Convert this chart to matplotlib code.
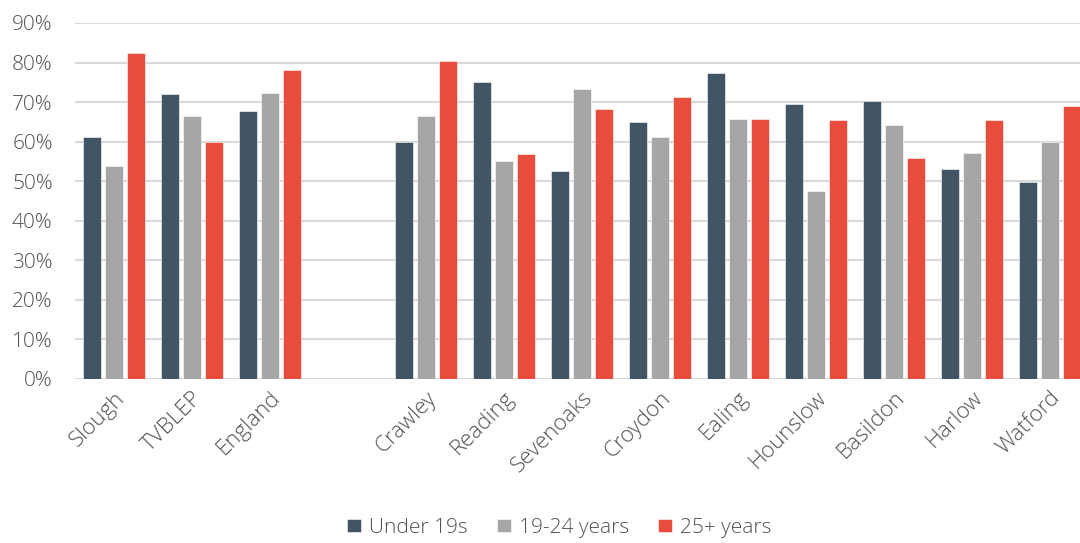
import matplotlib.pyplot as plt
import numpy as np

# Data (blank label = spacer between groups)
categories = ["Slough", "TVBLEP", "England", "", "Crawley", "Reading", "Sevenoaks",
              "Croydon", "Ealing", "Hounslow", "Basildon", "Harlow", "Watford"]
under_19 = [61.1, 72.0, 67.8, None, 59.9, 75.0, 52.6, 64.9, 77.3, 69.4, 70.4, 53.2, 49.9]
age_19_24 = [53.8, 66.5, 72.4, None, 66.5, 55.0, 73.3, 61.3, 65.7, 47.6, 64.2, 57.1, 59.9]
age_25_plus = [82.4, 59.9, 78.2, None, 80.5, 56.8, 68.3, 71.2, 65.7, 65.4, 55.8, 65.4, 69.1]

series = [("Under 19s", under_19, "#415564"),
          ("19-24 years", age_19_24, "#A6A6A6"),
          ("25+ years", age_25_plus, "#E84C3D")]

plt.rcParams['font.family'] = ['Open Sans', 'DejaVu Sans']
text_color = "#505050"
weight = "light"

fig = plt.figure(figsize=(10.8, 5.43), dpi=100)
ax = fig.add_axes([75 / 1080, 1 - 379 / 543, 1005 / 1080, 356 / 543])

x = np.arange(len(categories))
width = 0.23
pitch = 0.282
for i, (name, vals, color) in enumerate(series):
    xs = [xi + (i - 1) * pitch for xi, v in zip(x, vals) if v is not None]
    ys = [v for v in vals if v is not None]
    ax.bar(xs, ys, width, color=color, label=name, zorder=3,
           edgecolor="white", linewidth=0.4)

ax.set_ylim(0, 90)
ax.set_xlim(-0.5, 12.385)
ax.set_yticks(np.arange(0, 91, 10))
ax.set_yticklabels([f"{v}%" for v in range(0, 91, 10)], fontsize=15,
                   color=text_color, fontweight=weight)
ax.yaxis.grid(True, color="#D9D9D9", linewidth=1.5, zorder=0)
ax.set_axisbelow(True)
ax.tick_params(axis="y", length=0, pad=16)
ax.tick_params(axis="x", length=0, pad=6)

ax.set_xticks(x)
ax.set_xticklabels(categories, rotation=45, ha="right", rotation_mode="anchor",
                   fontsize=16, color=text_color, fontweight=weight)

for s in ax.spines.values():
    s.set_visible(False)

leg = fig.legend(loc="lower center", bbox_to_anchor=(0.518, -0.025), ncol=3,
                 frameon=False, fontsize=15, handlelength=0.65, handleheight=0.65,
                 handletextpad=0.4, columnspacing=1.4)
for t in leg.get_texts():
    t.set_color(text_color)
    t.set_fontweight(weight)

fig.savefig("out.png", dpi=100)
